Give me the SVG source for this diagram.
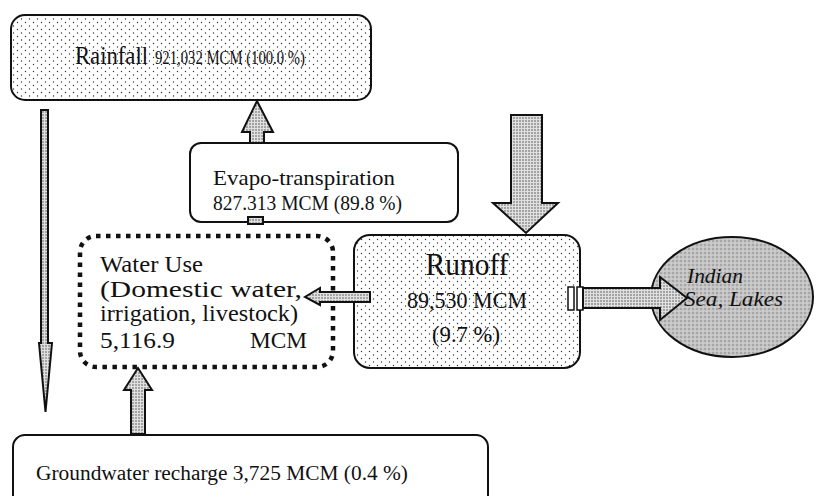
<svg xmlns="http://www.w3.org/2000/svg" width="816" height="496" viewBox="0 0 816 496">
<defs>
<pattern id="dots" width="8" height="7" patternUnits="userSpaceOnUse">
<rect width="8" height="7" fill="#ffffff"/>
<circle cx="1.5" cy="1.5" r="0.7" fill="#333"/>
<circle cx="5.5" cy="5" r="0.7" fill="#333"/>
</pattern>
<pattern id="dense" width="3" height="3" patternUnits="userSpaceOnUse">
<rect width="3" height="3" fill="#e0e0e0"/>
<circle cx="1" cy="1" r="0.8" fill="#555"/>
</pattern>
<pattern id="sea" width="4" height="4" patternUnits="userSpaceOnUse">
<rect width="4" height="4" fill="#c4c4c4"/>
<circle cx="1" cy="1" r="0.8" fill="#808080"/>
<circle cx="3" cy="3" r="0.6" fill="#e8e8e8"/>
</pattern>
</defs>
<style>
.box{stroke:#111;stroke-width:2;}
.t{font-family:"Liberation Serif","Times New Roman",serif;fill:#111;}
.arr{fill:url(#dense);stroke:#111;stroke-width:2;stroke-linejoin:miter;}
</style>
<rect width="816" height="496" fill="#ffffff"/>

<g id="rainfall">
<rect class="box" x="11" y="15" width="360" height="85" rx="14" fill="url(#dots)"/>
<text class="t" x="75" y="64" font-size="25" textLength="73" lengthAdjust="spacingAndGlyphs">Rainfall</text>
<text class="t" x="155" y="64" font-size="19" textLength="150" lengthAdjust="spacingAndGlyphs">921,032 MCM (100.0 %)</text>
</g>

<g id="evapo">
<rect class="box" x="190" y="143" width="268" height="79" rx="11" fill="#ffffff"/>
<text class="t" x="213" y="185" font-size="21" textLength="182" lengthAdjust="spacingAndGlyphs">Evapo-transpiration</text>
<text class="t" x="213" y="210" font-size="20" textLength="189" lengthAdjust="spacingAndGlyphs">827.313 MCM (89.8 %)</text>
</g>

<g id="runoff">
<rect class="box" x="354" y="235" width="226" height="133" rx="16" fill="url(#dots)"/>
<text class="t" x="467" y="275" font-size="32" text-anchor="middle" textLength="83" lengthAdjust="spacingAndGlyphs">Runoff</text>
<text class="t" x="467" y="308" font-size="23" text-anchor="middle" textLength="120" lengthAdjust="spacingAndGlyphs">89,530 MCM</text>
<text class="t" x="466" y="342" font-size="23" text-anchor="middle" textLength="68" lengthAdjust="spacingAndGlyphs">(9.7 %)</text>
</g>

<g id="wateruse">
<rect x="80" y="236" width="253" height="131" rx="16" fill="#ffffff" stroke="#111" stroke-width="4.5" stroke-dasharray="4.5 5.5"/>
<text class="t" x="100" y="272" font-size="24" textLength="103" lengthAdjust="spacingAndGlyphs">Water Use</text>
<text class="t" x="100" y="297" font-size="24" textLength="202" lengthAdjust="spacingAndGlyphs">(Domestic water,</text>
<text class="t" x="100" y="321" font-size="24" textLength="198" lengthAdjust="spacingAndGlyphs">irrigation, livestock)</text>
<text class="t" x="100" y="348" font-size="24" textLength="75" lengthAdjust="spacingAndGlyphs">5,116.9</text>
<text class="t" x="250" y="348" font-size="24" textLength="57" lengthAdjust="spacingAndGlyphs">MCM</text>
</g>

<g id="sea">
<ellipse cx="732" cy="297" rx="81" ry="60" fill="url(#sea)" stroke="#111" stroke-width="2"/>
<text class="t" x="687" y="283" font-size="22" font-style="italic" textLength="56" lengthAdjust="spacingAndGlyphs">Indian</text>
<text class="t" x="684" y="306" font-size="22" font-style="italic" textLength="99" lengthAdjust="spacingAndGlyphs">Sea, Lakes</text>
</g>

<g id="groundwater">
<rect class="box" x="13" y="435" width="475" height="80" rx="12" fill="#ffffff"/>
<text class="t" x="36" y="480" font-size="20" textLength="372" lengthAdjust="spacingAndGlyphs">Groundwater recharge 3,725 MCM (0.4 %)</text>
</g>

<g id="connectors">
<polygon class="arr" points="41,110 48,110 48,343 52,343 45.5,412 39,343 41,343" stroke-width="1.8"/>
<polygon class="arr" points="250,143 250,132 242,132 257,101 273,132 264,132 264,143"/>
<rect class="arr" x="248" y="217" width="15" height="7" stroke-width="1.5"/>
<polygon class="arr" points="511,115 542,115 542,203 558,203 526,233 493,203 511,203"/>
<polygon class="arr" points="370,292 370,302 320,302 320,305 305,297 320,288 320,292" stroke-width="1.8"/>
<polygon class="arr" points="131,434 131,390 124,390 138,368 152,390 145,390 145,434"/>
<rect x="568" y="287" width="6" height="23" fill="#fff" stroke="#111" stroke-width="1.5"/>
<rect x="577" y="287" width="6" height="23" fill="#fff" stroke="#111" stroke-width="1.5"/>
<polygon class="arr" points="583,288 660,288 660,277 687,298 660,320 660,308 583,308"/>
</g>
</svg>
